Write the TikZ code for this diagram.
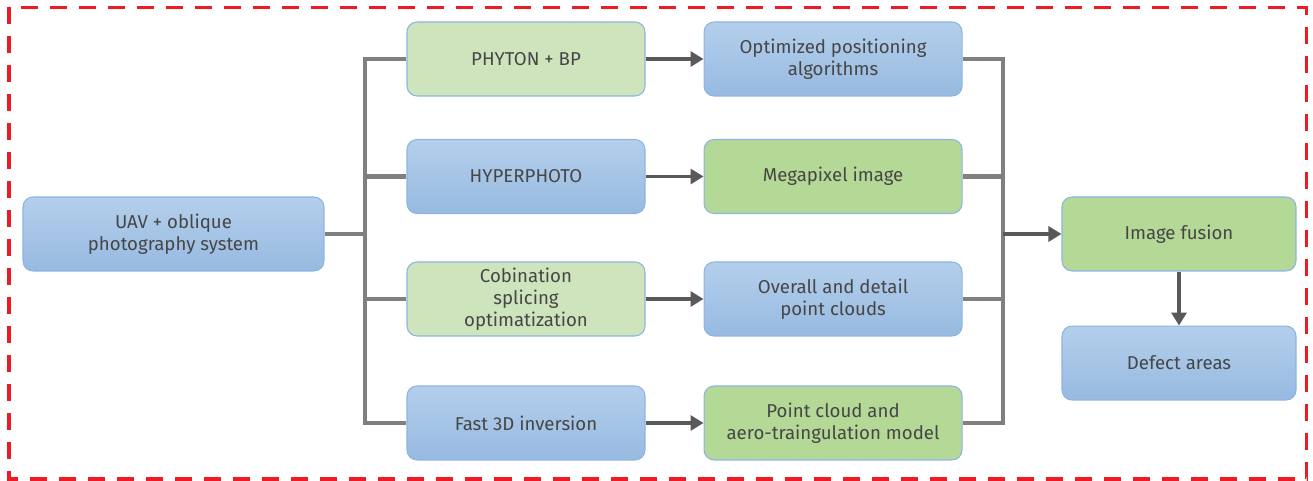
\documentclass[tikz,border=0pt]{standalone}
\usepackage{xcolor}
\usepackage{fontspec}
\setmainfont{Fira Sans}
\usepackage{tikz}
\usetikzlibrary{arrows.meta,positioning,calc}
\definecolor{azulc}{RGB}{180,207,236}
\definecolor{azulo}{RGB}{151,186,224}
\definecolor{borde}{RGB}{142,180,227}
\definecolor{verdec}{RGB}{205,228,188}
\definecolor{verdeo}{RGB}{180,216,150}
\definecolor{linea}{RGB}{128,128,128}
\definecolor{flecha}{RGB}{89,89,89}
\definecolor{texto}{RGB}{70,70,70}
\definecolor{rojo}{RGB}{237,28,36}

\begin{document}
\begin{tikzpicture}[
box/.style={draw=borde,line width=0.6pt,rounded corners=2mm,minimum height=14.8mm,align=center,text=texto,font=\fontsize{10.6}{12.4}\selectfont},
bluebox/.style={box,top color=azulc,bottom color=azulo},
lgreen/.style={box,fill=verdec},
dgreen/.style={box,fill=verdeo},
line/.style={draw=linea,line width=2.3pt},
arr/.style={draw=flecha,line width=2pt,-{Triangle[length=2.6mm,width=3mm]}}
]
\useasboundingbox (0,0) rectangle (26.26,-9.62);
\draw[rojo,line width=2.2pt,dash pattern=on 3.4mm off 2.4mm] (0.18,-0.15) rectangle (26.13,-9.58);

\node[bluebox,minimum width=60.2mm] (uav) at (3.47,-4.68) {UAV + oblique\\photography system};
\node[lgreen,minimum width=47.6mm] (phy) at (10.52,-1.18) {PHYTON + BP};
\node[bluebox,minimum width=47.6mm] (hyp) at (10.52,-3.53) {HYPERPHOTO};
\node[lgreen,minimum width=47.6mm] (cob) at (10.52,-5.98) {Cobination\\splicing\\optimatization};
\node[bluebox,minimum width=47.6mm] (fast) at (10.52,-8.46) {Fast 3D inversion};
\node[bluebox,minimum width=51.6mm,right=11.6mm of phy] (opt) {Optimized positioning\\algorithms};
\node[dgreen,minimum width=51.6mm,right=11.6mm of hyp] (mega) {Megapixel image};
\node[bluebox,minimum width=51.6mm,right=11.6mm of cob] (ovr) {Overall and detail\\point clouds};
\node[dgreen,minimum width=51.6mm,right=11.6mm of fast] (pcm) {Point cloud and\\aero-traingulation model};
\node[dgreen,minimum width=46.8mm] (fus) at (23.58,-4.68) {Image fusion};
\node[bluebox,minimum width=46.8mm,below=10.8mm of fus] (def) {Defect areas};

\coordinate (ljoin) at (7.30,-4.68);
\coordinate (rjoin) at (20.06,-4.68);
\draw[line](uav)--(ljoin);
\draw[line](phy.west)-|(ljoin)|-(fast.west);
\draw[line](hyp.west)--(hyp.west-|ljoin);
\draw[line](cob.west)--(cob.west-|ljoin);
\draw[arr](phy)--(opt);
\draw[arr](hyp)--(mega);
\draw[arr](cob)--(ovr);
\draw[arr](fast)--(pcm);
\draw[line](opt.east)-|(rjoin)|-(pcm.east);
\draw[line](mega.east)--(mega.east-|rjoin);
\draw[line](ovr.east)--(ovr.east-|rjoin);
\draw[arr](rjoin)--(fus);
\draw[arr](fus)--(def);
\end{tikzpicture}
\end{document}
